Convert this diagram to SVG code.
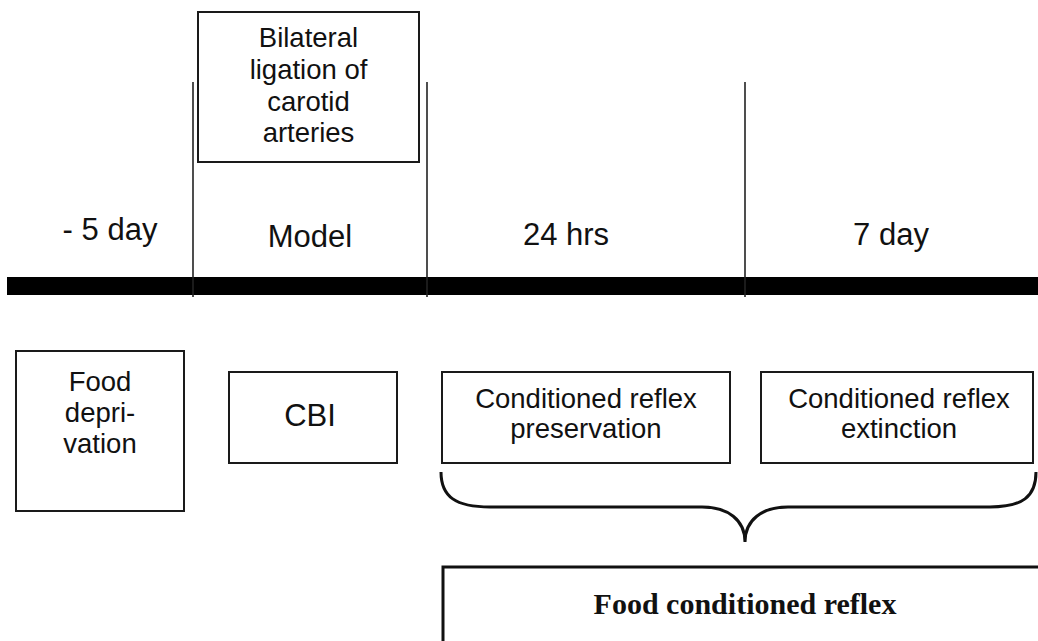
<svg xmlns="http://www.w3.org/2000/svg" width="1038" height="641" viewBox="0 0 1038 641">
<style>
.box{fill:#fff;stroke:#1a1a1a;stroke-width:2}
.t{font-family:"Liberation Sans",Arial,sans-serif;fill:#111;text-anchor:middle}
.s{font-size:27.5px}
.l{font-size:31px}
.tick{stroke:#222;stroke-width:1.6}
.b{font-family:"Liberation Serif","Times New Roman",serif;font-weight:bold;font-size:30px;fill:#111;text-anchor:middle}
</style>
<rect width="1038" height="641" fill="#fff"/>
<g id="timeline">
<rect x="7" y="277" width="1031" height="18" fill="#000"/>
<line class="tick" x1="193" y1="82" x2="193" y2="297"/>
<line class="tick" x1="427" y1="82" x2="427" y2="297"/>
<line class="tick" x1="745" y1="82" x2="745" y2="297"/>
</g>
<g id="label-minus5">
<text class="t l" x="110" y="240">- 5 day</text>
</g>
<g id="label-model">
<text class="t l" x="310" y="247">Model</text>
</g>
<g id="label-24hrs">
<text class="t l" x="566" y="245">24 hrs</text>
</g>
<g id="label-7day">
<text class="t l" x="891" y="245">7 day</text>
</g>
<g id="ligation">
<rect class="box" x="198" y="12" width="221" height="150"/>
<text class="t s" x="308.5" y="47">Bilateral</text>
<text class="t s" x="308.5" y="79">ligation of</text>
<text class="t s" x="308.5" y="111">carotid</text>
<text class="t s" x="308.5" y="142">arteries</text>
</g>
<g id="food-deprivation">
<rect class="box" x="16" y="351" width="168" height="160"/>
<text class="t s" x="100" y="391">Food</text>
<text class="t s" x="100" y="422">depri-</text>
<text class="t s" x="100" y="453">vation</text>
</g>
<g id="cbi">
<rect class="box" x="229" y="372" width="168" height="91"/>
<text class="t" x="310" y="426" font-size="31">CBI</text>
</g>
<g id="preservation">
<rect class="box" x="442" y="372" width="288" height="91"/>
<text class="t s" x="586" y="408">Conditioned reflex</text>
<text class="t s" x="586" y="438">preservation</text>
</g>
<g id="extinction">
<rect class="box" x="761" y="372" width="272" height="91"/>
<text class="t s" x="899" y="408">Conditioned reflex</text>
<text class="t s" x="899" y="438">extinction</text>
</g>
<g id="connectors">
<path d="M441 472 C441 497 456 507 490 507 L702 507 C728 507 745 520 745 542 C745 520 762 507 788 507 L990 507 C1022 507 1036 497 1036 472" fill="none" stroke="#111" stroke-width="3"/>
</g>
<g id="food-conditioned-reflex">
<rect x="443" y="567" width="620" height="100" fill="#fff" stroke="#111" stroke-width="3"/>
<text class="b" x="745" y="614">Food conditioned reflex</text>
</g>
</svg>
